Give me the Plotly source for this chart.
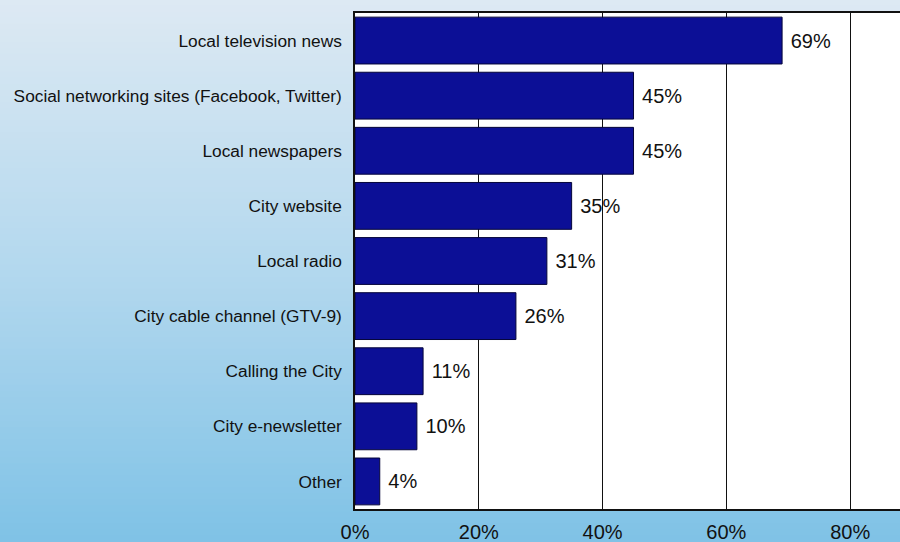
import plotly.graph_objects as go

# Survey: where residents get information about the City
categories = [
    "Local television news",
    "Social networking sites (Facebook, Twitter)",
    "Local newspapers",
    "City website",
    "Local radio",
    "City cable channel (GTV-9)",
    "Calling the City",
    "City e-newsletter",
    "Other",
]
percentages = [69, 45, 45, 35, 31, 26, 11, 10, 4]
tick_values = [0, 20, 40, 60, 80]
tick_labels = ["0%", "20%", "40%", "60%", "80%"]

W, H = 900, 542
M_L, M_R, M_T, M_B = 355, 0, 12.5, 33.4
BAR_COLOR = "#0c0f96"
FONT = "Liberation Sans, Arial, sans-serif"

fig = go.Figure(
    go.Bar(
        x=percentages,
        y=categories,
        orientation="h",
        marker=dict(color=BAR_COLOR, line=dict(color="#05053a", width=1)),
        text=[f"\u00a0{v}%" for v in percentages],
        textposition="outside",
        textfont=dict(family=FONT, size=20, color="#111111"),
        cliponaxis=False,
        hoverinfo="skip",
    )
)

# Soft blue vertical gradient behind the whole figure
stops = [(0.0, (221, 233, 243)), (0.5, (179, 216, 238)), (1.0, (127, 194, 230))]


def grad_color(t):
    for (t0, c0), (t1, c1) in zip(stops[:-1], stops[1:]):
        if t <= t1:
            f = (t - t0) / (t1 - t0)
            return "rgb({},{},{})".format(*[round(a + (b - a) * f) for a, b in zip(c0, c1)])
    return "rgb({},{},{})".format(*stops[-1][1])


plot_h = H - M_T - M_B
paper_top = 1 + M_T / plot_h
paper_bot = -M_B / plot_h
shapes = []
n_strips = 90
for i in range(n_strips):
    y1 = paper_top - (paper_top - paper_bot) * i / n_strips
    y0 = paper_top - (paper_top - paper_bot) * (i + 1) / n_strips
    shapes.append(dict(
        type="rect", xref="paper", yref="paper",
        x0=-1.2, x1=1.2, y0=y0 - 0.002, y1=y1 + 0.002,
        fillcolor=grad_color((i + 0.5) / n_strips),
        line=dict(width=0), layer="below",
    ))
# White plotting area on top of the gradient
shapes.append(dict(
    type="rect", xref="x domain", yref="y domain",
    x0=0, x1=1, y0=0, y1=1,
    fillcolor="white", line=dict(width=0), layer="below",
))

fig.update_layout(
    width=W,
    height=H,
    margin=dict(l=M_L, r=M_R, t=M_T, b=M_B),
    paper_bgcolor="#b3d8ee",
    plot_bgcolor="rgba(0,0,0,0)",
    bargap=0.15,
    showlegend=False,
    shapes=shapes,
    font=dict(family=FONT, color="#111111"),
    xaxis=dict(
        range=[0, 88.05],
        tickvals=tick_values,
        ticktext=tick_labels,
        tickfont=dict(size=20, color="#111111"),
        ticks="outside",
        ticklen=4,
        tickcolor="rgba(0,0,0,0)",
        showgrid=True,
        gridcolor="#111111",
        gridwidth=1.3,
        showline=True,
        linecolor="#111111",
        linewidth=1.5,
        mirror=True,
        zeroline=False,
        fixedrange=True,
    ),
    yaxis=dict(
        autorange="reversed",
        tickfont=dict(size=17.3, color="#111111"),
        ticks="outside",
        ticklen=8,
        tickcolor="rgba(0,0,0,0)",
        showgrid=False,
        showline=True,
        linecolor="#111111",
        linewidth=1.5,
        fixedrange=True,
    ),
)

fig.write_html("out.html", config={"displayModeBar": False})
